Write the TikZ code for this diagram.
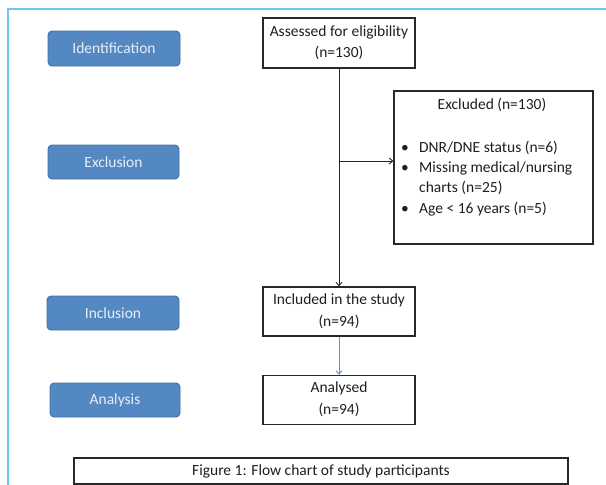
\documentclass[tikz,border=0pt]{standalone}
\usepackage{fontspec}
\setmainfont{Carlito}
\usetikzlibrary{arrows.meta}
\definecolor{framecol}{RGB}{110,198,238}
\definecolor{stagefill}{RGB}{84,136,194}
\definecolor{stagedraw}{RGB}{66,112,166}
\definecolor{stagetext}{RGB}{232,238,247}
\definecolor{boxdraw}{RGB}{40,40,40}
\definecolor{bluearrow}{RGB}{96,146,205}
\tikzset{
  stage/.style={draw=stagedraw, line width=0.9pt, fill=stagefill, rounded corners=4pt,
    text=stagetext, font=\fontsize{15.5}{17}\selectfont, inner sep=0pt},
  flowbox/.style={draw=boxdraw, line width=1.3pt, fill=white, inner sep=0pt},
  boxtext/.style={font=\fontsize{15.5}{17}\selectfont, inner sep=0pt, text=black!88},
  conn/.style={draw=black!85, line width=0.9pt, -{Straight Barb[length=3.5pt,width=6pt]}},
}
\begin{document}
\begin{tikzpicture}[x=1pt,y=-1pt]
\useasboundingbox (0,0) rectangle (606,485);
% outer frame
\draw[framecol, line width=1.6pt] (8,495) -- (8,9) -- (616,9);
% stage labels
\node[stage, minimum width=132pt, minimum height=35pt] (ident) at (114,48.5) {Identification};
\node[stage, minimum width=131pt, minimum height=34pt] (excl) at (113.5,162) {Exclusion};
\node[stage, minimum width=132pt, minimum height=34pt] (incl) at (113,313) {Inclusion};
\node[stage, minimum width=130pt, minimum height=34pt] (anal) at (115,400) {Analysis};
% flow boxes
\node[flowbox, minimum width=152pt, minimum height=50pt] (assess) at (339,43) {};
\node[boxtext] (assessA) at (339,32.5) {Assessed for eligibility};
\node[boxtext] (assessB) at (339,53) {(n=130)};
\node[flowbox, minimum width=199pt, minimum height=153pt] (excluded) at (493.5,167.5) {};
\node[boxtext] (exT) at (492,105) {Excluded (n=130)};
\node[boxtext, anchor=base west] (ex1) at (401,152) {\makebox[18pt][l]{\textbullet}DNR/DNE status (n=6)};
\node[boxtext, anchor=base west] (ex2) at (401,172) {\makebox[18pt][l]{\textbullet}Missing medical/nursing};
\node[boxtext, anchor=base west] (ex3) at (419,192.5) {charts (n=25)};
\node[boxtext, anchor=base west] (ex4) at (401,213) {\makebox[18pt][l]{\textbullet}Age {<} 16 years (n=5)};
\node[flowbox, minimum width=152pt, minimum height=49pt] (included) at (339,311.5) {};
\node[boxtext] (inclA) at (339,300) {Included in the study};
\node[boxtext] (inclB) at (339,321.5) {(n=94)};
\node[flowbox, minimum width=152pt, minimum height=49pt] (analysed) at (339,400) {};
\node[boxtext] (analA) at (339,388) {Analysed};
\node[boxtext] (analB) at (339,410) {(n=94)};
\node[flowbox, minimum width=494pt, minimum height=26pt] (caption) at (321,471) {};
\node[boxtext] (capT) at (321,471) {Figure 1: Flow chart of study participants};
% connectors
\coordinate (branch) at (339,161);
\draw[conn] (assess.south) -- (included.north);
\draw[conn] (branch) -- (branch -| excluded.west);
\draw[conn, draw=bluearrow] (included.south) -- (analysed.north);
\end{tikzpicture}
\end{document}
